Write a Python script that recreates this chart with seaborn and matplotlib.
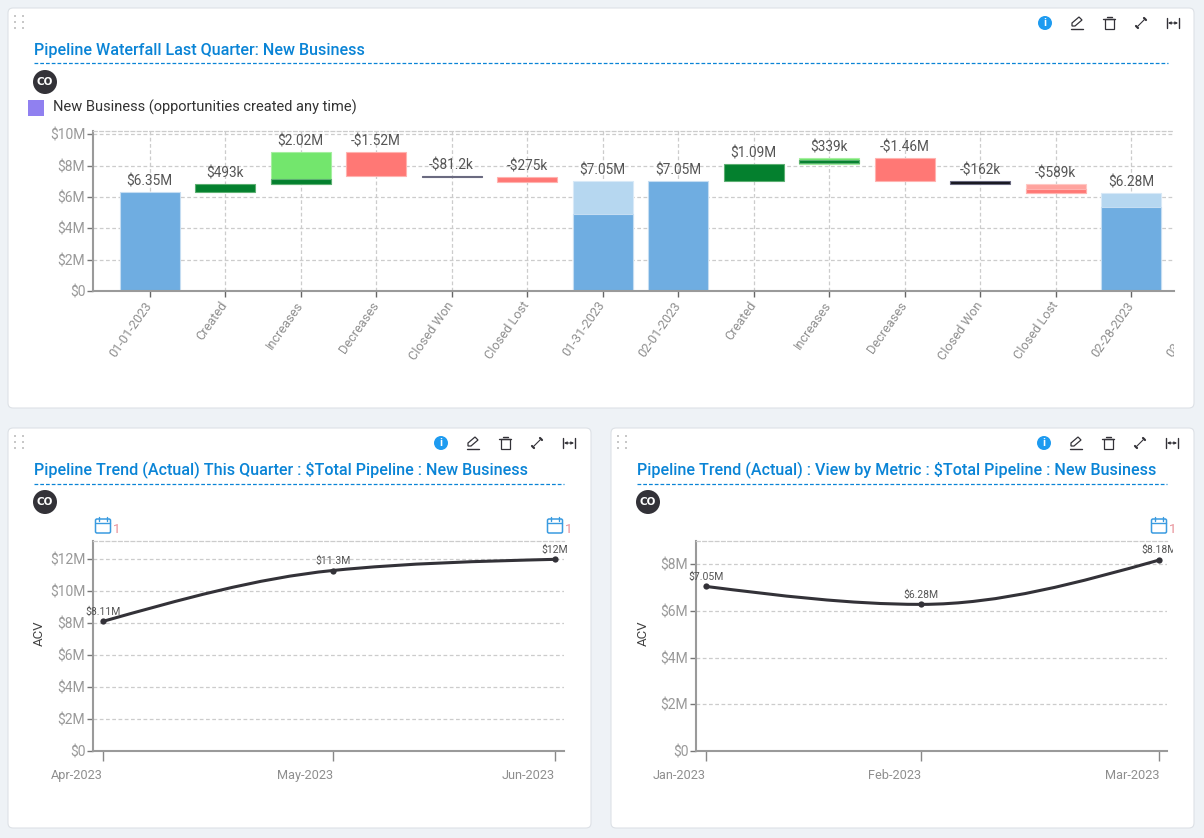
"""
Pipeline dashboard: one waterfall card and two trend cards.
"""
import numpy as np
import pandas as pd
import matplotlib
matplotlib.use('Agg')
import matplotlib.pyplot as plt
import matplotlib.dates as mdates
from matplotlib.patches import Circle, FancyBboxPatch, PathPatch, Polygon, Rectangle
from matplotlib.path import Path
from matplotlib.transforms import Bbox
import seaborn as sns

W, H = 1204, 838

# Waterfall values in $M
wf_categories = ['01-01-2023', 'Created', 'Increases', 'Decreases', 'Closed Won', 'Closed Lost',
                 '01-31-2023', '02-01-2023', 'Created', 'Increases', 'Decreases', 'Closed Won',
                 'Closed Lost', '02-28-2023']
wf_hidden_category = '03-01-2023'
wf_labels = ['$6.35M', '$493k', '$2.02M', '-$1.52M', '-$81.2k', '-$275k', '$7.05M', '$7.05M',
             '$1.09M', '$339k', '-$1.46M', '-$162k', '-$589k', '$6.28M']
wf_base = [0, 6.35, 6.84, 7.34, 7.26, 6.96, 0, 0, 7.05, 8.13, 7.02, 6.85, 6.27, 0]
wf_top = [6.35, 6.84, 8.86, 8.86, 7.34, 7.26, 7.05, 7.05, 8.14, 8.49, 8.49, 7.0, 6.86, 6.28]
wf_kind = ['blue', 'dark_green', 'light_green', 'red', 'ink', 'red', 'light_blue', 'blue',
           'dark_green', 'light_green', 'red', 'ink', 'light_red', 'light_blue']

# Darker part of the bars that are split in two
split_pos = [2, 6, 9, 12, 13]
split_base = [6.84, 0, 8.2, 6.27, 0]
split_top = [7.18, 4.9, 8.36, 6.54, 5.37]
split_kind = ['dark_green', 'blue', 'dark_green', 'red', 'blue']

trend_left_dates = ['2023-04-30', '2023-05-31', '2023-06-30']
trend_left_ticks = ['Apr-2023', 'May-2023', 'Jun-2023']
trend_left_values = [8.11, 11.3, 12.0]
trend_left_labels = ['$8.11M', '$11.3M', '$12M']

trend_right_dates = ['2023-01-31', '2023-02-28', '2023-03-31']
trend_right_ticks = ['Jan-2023', 'Feb-2023', 'Mar-2023']
trend_right_values = [7.05, 6.28, 8.18]
trend_right_labels = ['$7.05M', '$6.28M', '$8.18M']

COLORS = {'blue': '#6FADE1', 'light_blue': '#B6D7F0', 'dark_green': '#04802E', 'light_green': '#73E66D',
          'red': '#FF7875', 'light_red': '#FFA39E', 'ink': '#15151C'}
EDGES = {'blue': '#C5DDF2', 'light_blue': '#D8E9F7', 'dark_green': '#5DAF72', 'light_green': '#A5EFA0',
         'red': '#FFB3B0', 'light_red': '#FFC8C4', 'ink': '#6A6A80'}
TITLE_BLUE = '#0A84D6'
AXIS_GRAY = '#9A9A9A'
GRID_GRAY = '#CCCCCC'
TICK_GRAY = '#8F8F8F'
DARK = '#333238'

sns.set_theme(style='white')
plt.rcParams['font.family'] = ['Roboto', 'DejaVu Sans']


def px_axes(fig, left, top, right, bottom):
    ax = fig.add_axes([left / W, 1 - bottom / H, (right - left) / W, (bottom - top) / H])
    ax.patch.set_alpha(0)
    return ax


def draw_icons(bg, x0, y):
    """Toolbar of a card, x0 is the centre of the info icon."""
    bg.add_patch(Circle((x0, y), 7, color='#1E9BF0', lw=0))
    bg.text(x0, y + 0.3, 'i', color='white', fontsize=8, fontweight='bold', ha='center', va='center')
    # pencil
    px = x0 + 32
    bg.plot([px - 6, px + 6], [y + 6, y + 6], color=DARK, lw=1)
    bg.add_patch(Polygon([(px - 5, y + 3), (px - 5, y), (px + 2, y - 6), (px + 5, y - 3), (px - 2, y + 3)],
                         fill=False, ec=DARK, lw=0.9))
    # trash
    tx = x0 + 64
    bg.add_patch(Rectangle((tx - 4.5, y - 4), 9, 10, fill=False, ec=DARK, lw=0.9))
    bg.plot([tx - 6, tx + 6], [y - 4, y - 4], color=DARK, lw=1)
    bg.plot([tx - 2.5, tx + 2.5], [y - 6, y - 6], color=DARK, lw=1)
    # expand
    ex = x0 + 96
    bg.plot([ex - 3, ex + 3], [y + 3, y - 3], color=DARK, lw=0.8)
    bg.plot([ex - 5, ex - 3], [y + 3, y + 5], color=DARK, lw=1.6)
    bg.plot([ex + 3, ex + 5], [y - 5, y - 3], color=DARK, lw=1.6)
    # fit width
    wx = x0 + 128
    bg.plot([wx - 6, wx - 6], [y - 5, y + 5], color=DARK, lw=1)
    bg.plot([wx + 6, wx + 6], [y - 5, y + 5], color=DARK, lw=1)
    bg.annotate('', xy=(wx + 5, y), xytext=(wx - 5, y),
                arrowprops=dict(arrowstyle='<|-|>', color=DARK, lw=0.7, mutation_scale=4, shrinkA=0, shrinkB=0))


def draw_card(bg, left, top, right, bottom, title, icon_x, title_y, line_right):
    bg.add_patch(FancyBboxPatch((left + 4, top + 4), right - left - 8, bottom - top - 8,
                                boxstyle='round,pad=4,rounding_size=5', fc='white', ec='#DDE1E6', lw=0.8))
    for dx in (7, 15):
        for dy in (8, 14, 20):
            bg.add_patch(Circle((left + dx, top + dy), 0.9, color='#AAAAAA', lw=0))
    tx = left + 26
    bg.text(tx, title_y, title, color=TITLE_BLUE, fontsize=TITLE_SIZE, fontweight='medium', va='center')
    bg.plot([tx, line_right], [title_y + 13.5, title_y + 13.5], color=TITLE_BLUE, lw=0.9, ls=(0, (3, 1.6)))
    bg.add_patch(Circle((tx + 11, title_y + 32), 12, color=DARK, lw=0))
    bg.text(tx + 11, title_y + 32.3, 'CO', color='white', fontsize=7.5, fontweight='bold',
            family='DejaVu Sans', ha='center', va='center')
    draw_icons(bg, icon_x, top + 15)


def draw_calendar(bg, x, y=526):
    bg.add_patch(FancyBboxPatch((x - 7, y - 6.5), 14, 13, boxstyle='round,pad=0.5,rounding_size=1.5',
                                fill=False, ec='#3A9BE0', lw=1.1))
    bg.plot([x - 7, x + 7], [y - 3, y - 3], color='#3A9BE0', lw=1)
    for dx in (-4, 4):
        bg.plot([x + dx, x + dx], [y - 9, y - 5], color='#3A9BE0', lw=1)
    bg.text(x + 10, y + 3.5, '1', color='#E88F97', fontsize=9.5, va='center')


def style_axis(ax):
    ax.set_xlabel('')
    ax.set_ylabel('')
    for side in ('left', 'bottom'):
        ax.spines[side].set_color(AXIS_GRAY)
        ax.spines[side].set_linewidth(1.5)
    ax.spines['right'].set_visible(False)
    ax.spines['top'].set_color(GRID_GRAY)
    ax.spines['top'].set_linewidth(0.9)
    ax.spines['top'].set_linestyle((0, (3, 2)))
    ax.set_axisbelow(True)
    ax.grid(axis='y', color=GRID_GRAY, lw=0.9, ls=(0, (3, 2)))
    ax.yaxis.set_major_formatter(lambda v, pos: '$0' if v == 0 else f'${v:.0f}M')
    ax.tick_params(axis='y', length=4.5, width=1, color='#777777', labelcolor='#999999', labelsize=10, pad=1, left=True)


def draw_layer(ax, positions, bases, tops, kinds, order):
    """Stacked waterfall pieces, one barplot call for each colour."""
    df = pd.DataFrame({'pos': positions, 'base': bases, 'top': tops, 'kind': kinds})
    df['height'] = df['top'] - df['base']
    for kind, sub in df.groupby('kind'):
        sub = sub.sort_values('pos')
        sns.barplot(data=sub, x='pos', y='height', order=order, ax=ax, color=COLORS[kind], saturation=1,
                    width=0.795, errorbar=None, bottom=sub['base'].values,
                    edgecolor=EDGES[kind], linewidth=0.8, zorder=2)


def draw_waterfall(fig):
    ax = px_axes(fig, 93, 130.7, 1174, 291)
    order = list(range(len(wf_categories)))
    draw_layer(ax, order, wf_base, wf_top, wf_kind, order)
    draw_layer(ax, split_pos, split_base, split_top, split_kind, order)
    style_axis(ax)
    ax.set_ylim(0, 10.24)
    ax.set_yticks([0, 2, 4, 6, 8, 10])
    ax.set_xlim(-0.75, 13.568)
    ax.set_xticks(order)
    ax.set_xticklabels(wf_categories, rotation=55, ha='right', va='center', rotation_mode='anchor',
                       color=TICK_GRAY, fontsize=9.2)
    ax.tick_params(axis='x', length=4, width=1, color='#666666', pad=4.5, bottom=True)
    ax.grid(axis='x', color=GRID_GRAY, lw=0.9, ls=(0, (3, 2)))
    for pos, top, label in zip(order, wf_top, wf_labels):
        ax.annotate(label, (pos, top), xytext=(0, 2.5), textcoords='offset points', ha='center', va='bottom',
                    color='#555555', fontsize=9.8, zorder=4)
    # The next category runs off the card and only its first characters show
    hidden = ax.annotate(wf_hidden_category, (14, 0), xytext=(0, -8.5), textcoords='offset points',
                         annotation_clip=False, rotation=55, ha='right', va='center', rotation_mode='anchor',
                         color=TICK_GRAY, fontsize=9.2)
    hidden.set_clip_on(True)
    hidden.set_clip_box(Bbox([[0, 0], [1174, H]]))


def monotone_path(x, y):
    """Bezier path through the points with monotone-x tangents, like the chart's curve."""
    x = np.asarray(x, dtype=float)
    y = np.asarray(y, dtype=float)
    h = np.diff(x)
    s = np.diff(y) / h
    t = np.zeros(len(x))
    for i in range(1, len(x) - 1):
        p = (s[i - 1] * h[i] + s[i] * h[i - 1]) / (h[i - 1] + h[i])
        t[i] = (np.sign(s[i - 1]) + np.sign(s[i])) * min(abs(s[i - 1]), abs(s[i]), 0.5 * abs(p))
    t[0] = (3 * s[0] - t[1]) / 2
    t[-1] = (3 * s[-1] - t[-2]) / 2
    verts = [(x[0], y[0])]
    for i in range(len(h)):
        verts += [(x[i] + h[i] / 3, y[i] + t[i] * h[i] / 3),
                  (x[i + 1] - h[i] / 3, y[i + 1] - t[i + 1] * h[i] / 3),
                  (x[i + 1], y[i + 1])]
    return Path(verts, [Path.MOVETO] + [Path.CURVE4] * (len(verts) - 1))


def draw_trend(fig, box, dates, ticks, values, labels, ymax, yticks, xpad, acv_x, clip_right):
    left, top, right, bottom = box
    ax = px_axes(fig, left, top, right, bottom)
    df = pd.DataFrame({'date': pd.to_datetime(dates), 'value': values})
    sns.lineplot(data=df, x='date', y='value', ax=ax, marker='o', markersize=4.5, linewidth=0,
                 color=DARK, markeredgewidth=0, zorder=3)
    xnum = mdates.date2num(df['date'])
    ax.add_patch(PathPatch(monotone_path(xnum, df['value']), fill=False, ec=DARK, lw=2.2, zorder=3, capstyle='round'))
    style_axis(ax)
    ax.set_ylim(0, ymax)
    ax.set_yticks(yticks)
    # first and last tick sit at known pixel offsets from the axes edges
    per_px = (xnum[-1] - xnum[0]) / (right - left - xpad[0] - xpad[1])
    ax.set_xlim(xnum[0] - xpad[0] * per_px, xnum[-1] + xpad[1] * per_px)
    ax.set_xticks(xnum)
    ax.set_xticklabels(ticks, ha='right', color=TICK_GRAY, fontsize=9.2)
    ax.tick_params(axis='x', length=7, width=1, color='#888888', pad=6, bottom=True)
    for xv, yv, label in zip(xnum, values, labels):
        t = ax.annotate(label, (xv, yv), xytext=(0, 3.5), textcoords='offset points', ha='center', va='bottom',
                        color='#555555', fontsize=7.5, zorder=4, annotation_clip=False)
        t.set_clip_on(True)
        t.set_clip_box(Bbox([[0, 0], [clip_right, H]]))
    fig.text(acv_x / W, 1 - 633 / H, 'ACV', rotation=90, ha='center', va='center',
             color='#444444', fontsize=9.5)
    return ax


TITLE_SIZE = 11.6

fig = plt.figure(figsize=(W / 100, H / 100), dpi=100, facecolor='#EEF2F6')
bg = fig.add_axes([0, 0, 1, 1])
bg.set_xlim(0, W)
bg.set_ylim(H, 0)
bg.axis('off')

draw_card(bg, 8, 8, 1194, 408, 'Pipeline Waterfall Last Quarter: New Business', 1045, 50, 1168)
draw_card(bg, 8, 428, 591, 828, 'Pipeline Trend (Actual) This Quarter : $Total Pipeline : New Business', 441, 470, 564)
draw_card(bg, 611, 428, 1194, 828, 'Pipeline Trend (Actual) : View by Metric : $Total Pipeline : New Business',
          1044, 470, 1167)

# legend of the waterfall card
bg.add_patch(Rectangle((28, 100), 16, 16, color='#9080F0', lw=0))
bg.text(53, 107, 'New Business (opportunities created any time)', color='#333333', fontsize=10.5,
        va='center')

draw_calendar(bg, 103)
draw_calendar(bg, 555)
draw_calendar(bg, 1159)

draw_waterfall(fig)
draw_trend(fig, (93, 541, 564, 750.7), trend_left_dates, trend_left_ticks, trend_left_values, trend_left_labels,
           13.15, [0, 2, 4, 6, 8, 10, 12], (10, 9), 39, 1204)
draw_trend(fig, (696, 541, 1167, 750.7), trend_right_dates, trend_right_ticks, trend_right_values, trend_right_labels,
           9.0, [0, 2, 4, 6, 8], (10, 8), 643, 1173)

fig.savefig('out.png', dpi=100, facecolor=fig.get_facecolor())
